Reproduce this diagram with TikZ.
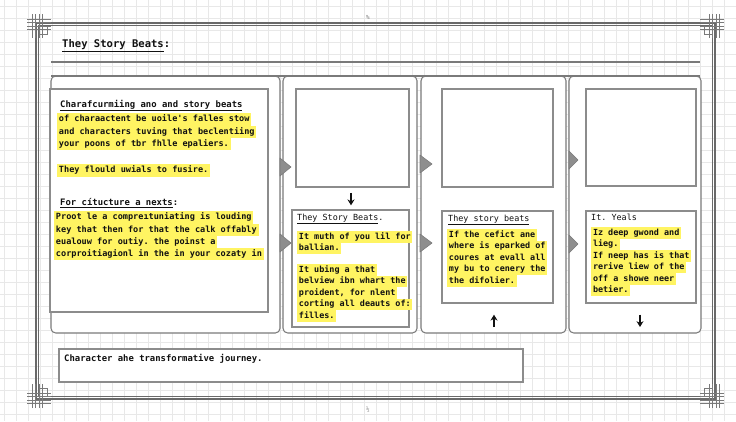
\documentclass[tikz,border=0pt]{standalone}
\usepackage{fontspec}
\setmonofont{DejaVu Sans Mono}
\usetikzlibrary{arrows.meta,positioning}
\definecolor{beatInk}{HTML}{111111}
\definecolor{beatYellow}{HTML}{FFF462}
\definecolor{beatLine}{HTML}{7A7A7A}
\definecolor{beatFrame}{HTML}{6A6A6A}
\definecolor{beatBox}{HTML}{8C8C8C}
\definecolor{beatPointer}{HTML}{8E8E8E}
\definecolor{beatGrid}{HTML}{E8E8E8}
\setlength{\fboxsep}{0pt}
\newcommand{\beatmark}[1]{\colorbox{beatYellow}{\strut\hspace{1.5pt}#1\hspace{1.5pt}}}
\tikzset{
  every picture/.style={font=\ttfamily, text=beatInk},
  beat grid/.style={draw=beatGrid, line width=0.3pt},
  beat frame/.style={draw=beatFrame, line width=1pt},
  beat rule/.style={draw=beatLine, line width=1pt},
  beat panel/.style={draw=beatLine, line width=0.9pt, rounded corners=4pt, fill=white},
  beat box/.style 2 args={draw=beatBox, line width=0.9pt, fill=white, anchor=north west,
    inner sep=0pt, outer sep=0pt, minimum width=#1*0.03cm, minimum height=#2*0.03cm},
  beat body/.style={anchor=north west, inner sep=0pt, align=left,
    font=\ttfamily\bfseries\fontsize{7.3}{10.5}\selectfont},
  beat small/.style={beat body, font=\ttfamily\bfseries\fontsize{7.2}{9.8}\selectfont},
  beat head/.style={anchor=base west, inner sep=0pt, font=\ttfamily\bfseries\fontsize{7.6}{9}\selectfont},
  beat pointer/.style={fill=beatPointer, draw=beatLine, line width=0.5pt, line join=round},
  beat arrow/.style={-{Stealth[length=5pt,width=6pt]}, draw=beatInk, line width=1.3pt},
  beat ornament/.style={draw=beatLine, line width=0.35pt}
}
\begin{document}
\begin{tikzpicture}[x=0.03cm, y=-0.03cm]
  \useasboundingbox (0,0) rectangle (736,421);
  % background grid
  \foreach \gx in {4,16,...,736} \draw[beat grid] (\gx,0) -- (\gx,421);
  \foreach \gy in {6,18,...,421} \draw[beat grid] (0,\gy) -- (736,\gy);
  % frame and corners
  \draw[beat frame] (36,23) rectangle (715,399);
  \draw[beat frame, line width=0.6pt] (38.5,25.5) rectangle (712.5,396.5);
  \foreach \cx/\cy/\sx/\sy in {37/24/1/1, 714/24/-1/1, 37/398/1/-1, 714/398/-1/-1} {
    \foreach \k in {-5,-2,2,5} {
      \draw[beat ornament] ({\cx-(\sx)*10},{\cy+(\sy)*(\k)}) -- ({\cx+(\sx)*14},{\cy+(\sy)*(\k)});
      \draw[beat ornament] ({\cx+(\sx)*(\k)},{\cy-(\sy)*10}) -- ({\cx+(\sx)*(\k)},{\cy+(\sy)*14});
    }
    \draw[beat ornament] ({\cx+(\sx)*2},{\cy+(\sy)*2}) rectangle ({\cx+(\sx)*10},{\cy+(\sy)*10});
  }
  \node[font=\ttfamily\fontsize{5}{5}\selectfont, text=beatLine] (topmark) at (368,17) {\%};
  \node[font=\ttfamily\fontsize{5}{5}\selectfont, text=beatLine] (botmark) at (368,410) {½};
  % panels
  \draw[beat panel] (51,76) rectangle (280,333);
  \draw[beat panel] (283,76) rectangle (417,333);
  \draw[beat panel] (421,76) rectangle (566,333);
  \draw[beat panel] (569,76) rectangle (701,333);
  \draw[beat rule] (51,62) -- (700,62);
  \draw[beat rule] (51,76) -- (700,76);
  \node[beat head, font=\ttfamily\bfseries\fontsize{9}{10}\selectfont] (title) at (62,47)
    {\underline{They Story Beats}:};

  % column 1
  \node[beat box={218}{223}] (introbox) at (50,89) {};
  \node[beat head] (introhead) at (60,107) {\underline{Charafcurmiing ano and story beats}};
  \node[beat body] (introtext) at (57,113)
    {\beatmark{of charaactent be uoile's falles stow}\\
     \beatmark{and characters tuving that beclentiing}\\
     \beatmark{your poons of tbr fhlle epaliers.}};
  \node[beat body] (introline) at (57,164) {\beatmark{They flould uwials to fusire.}};
  \node[beat head] (structhead) at (60,205) {\underline{For cítucture a nexts}:};
  \node[beat body] (structtext) at (54,211)
    {\beatmark{Proot le a compreıtuniating is louding}\\
     \beatmark{key that then for that the calk offably}\\
     \beatmark{eualouw for outiy. the poinst a}\\
     \beatmark{corproitiagionl in the in your cozaty in}};

  % column 2
  \node[beat box={113}{98}] (beatAtop) at (296,89) {};
  \node[beat box={117}{117}] (beatAlow) at (292,210) {};
  \node[beat head, font=\ttfamily\fontsize{7.2}{9}\selectfont] (beatAhead) at (297,220)
    {\underline{They Story Beats}.};
  \node[beat small] (beatAone) at (297,231)
    {\beatmark{It muth of you lil for}\\
     \beatmark{ballian.}};
  \node[beat small] (beatAtwo) at (297,264)
    {\beatmark{It ubing a that}\\
     \beatmark{belview ibn whart the}\\
     \beatmark{proident, for nlent}\\
     \beatmark{corting all deauts of:}\\
     \beatmark{filles.}};

  % column 3
  \node[beat box={111}{98}] (beatBtop) at (442,89) {};
  \node[beat box={111}{92}] (beatBlow) at (442,211) {};
  \node[beat head, font=\ttfamily\fontsize{7.2}{9}\selectfont] (beatBhead) at (448,221)
    {\underline{They story beats}};
  \node[beat small] (beatBtext) at (447,229)
    {\beatmark{If the cefict ane}\\
     \beatmark{where is eparked of}\\
     \beatmark{coures at evall all}\\
     \beatmark{my bu to cenery the}\\
     \beatmark{the difolier.}};

  % column 4
  \node[beat box={110}{97}] (beatCtop) at (586,89) {};
  \node[beat box={110}{92}] (beatClow) at (586,211) {};
  \node[beat head, font=\ttfamily\fontsize{7.2}{9}\selectfont] (beatChead) at (591,220) {It. Yeals};
  \node[beat small] (beatCtext) at (591,227)
    {\beatmark{Iz deep gwond and}\\
     \beatmark{lieg.}\\
     \beatmark{If neep has is that}\\
     \beatmark{rerive liew of the}\\
     \beatmark{off a showe neer}\\
     \beatmark{betier.}};

  % bottom line
  \node[beat box={464}{33}] (journey) at (59,349) {};
  \node[beat head] (journeytext) at (64,361) {Character ahe transformative journey.};

  % pointers between columns
  \foreach \px/\py/\pw in {280/167/11, 280/243/11, 420/164/12, 420/243/12, 569/160/9, 569/244/9}
    \filldraw[beat pointer] (\px,{\py-9}) -- ({\px+\pw},\py) -- (\px,{\py+9}) -- cycle;

  % arrows
  \coordinate (beatBfoot) at (494,327);
  \coordinate (beatCfoot) at (640,327);
  \draw[beat arrow, shorten <=5pt, shorten >=4pt] (beatAtop.south -| 351,0) -- (beatAlow.north -| 351,0);
  \draw[beat arrow, shorten >=10pt] (beatBfoot) -- (beatBlow.south -| beatBfoot);
  \draw[beat arrow, shorten <=10pt] (beatClow.south -| beatCfoot) -- (beatCfoot);
\end{tikzpicture}
\end{document}
